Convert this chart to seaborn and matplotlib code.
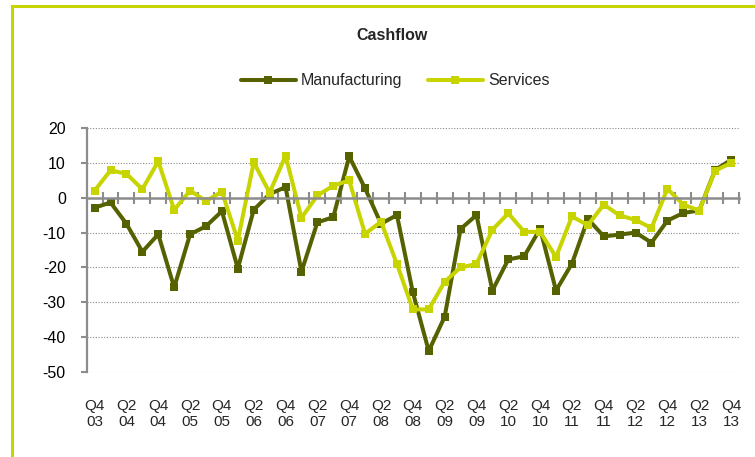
import matplotlib
matplotlib.use("Agg")
import matplotlib.pyplot as plt
from matplotlib.lines import Line2D
from matplotlib.patches import Rectangle
import numpy as np
import pandas as pd
import seaborn as sns

# Quarterly balance, Q4 2003 .. Q4 2013
manufacturing = [-2.9, -1.4, -7.5, -15.5, -10.5, -25.7, -10.5, -8.2, -3.9, -20.3,
                 -3.5, 1.0, 3.0, -21.2, -7.1, -5.6, 11.8, 2.6, -7.5, -5.0,
                 -27.1, -43.9, -34.1, -9.0, -5.0, -26.6, -17.7, -16.8, -8.9, -26.6,
                 -18.9, -6.1, -11.1, -10.6, -10.0, -12.9, -6.6, -4.4, -3.7, 7.9,
                 10.8]
services = [2.0, 7.8, 6.8, 2.4, 10.4, -3.5, 2.0, -1.0, 1.7, -12.3,
            10.1, 1.4, 12.0, -5.8, 0.6, 3.4, 4.9, -10.4, -6.9, -19.0,
            -32.0, -32.0, -24.1, -20.0, -19.0, -9.2, -4.5, -9.8, -9.8, -17.0,
            -5.4, -7.9, -2.0, -5.1, -6.4, -8.7, 2.5, -2.0, -3.7, 7.7,
            9.9]
tick_labels = ["Q4\n03", "Q2\n04", "Q4\n04", "Q2\n05", "Q4\n05", "Q2\n06", "Q4\n06",
               "Q2\n07", "Q4\n07", "Q2\n08", "Q4\n08", "Q2\n09", "Q4\n09", "Q2\n10",
               "Q4\n10", "Q2\n11", "Q4\n11", "Q2\n12", "Q4\n12", "Q2\n13", "Q4\n13"]
series_names = ["Manufacturing", "Services"]
colors = {"Manufacturing": "#566100", "Services": "#c8d400"}

n = len(manufacturing)
df = pd.DataFrame({
    "pos": list(range(n)) * 2,
    "value": manufacturing + services,
    "series": [series_names[0]] * n + [series_names[1]] * n,
})

sns.set_style("white")
plt.rcParams["font.family"] = ["Liberation Sans", "DejaVu Sans"]
plt.rcParams["axes.unicode_minus"] = False
plt.rcParams["xtick.bottom"] = True
plt.rcParams["ytick.left"] = True

fig = plt.figure(figsize=(7.55, 4.57), dpi=100)
ax = fig.add_axes([0.1148, 0.1853, 0.8640, 0.5353])

sns.lineplot(data=df, x="pos", y="value", hue="series", style="series",
             markers=["s", "s"], dashes=False, palette=colors,
             linewidth=2.9, markersize=6, markeredgewidth=0,
             legend=False, ax=ax)

axis_gray = "#8c8c8c"
ax.set_xlim(-0.5, n - 0.5)
ax.set_ylim(-50, 20)
ax.set_xlabel("")
ax.set_ylabel("")

# y axis
ax.set_yticks(np.arange(-50, 21, 10))
ax.tick_params(axis="y", left=True, direction="out", length=4, width=1.5,
               color=axis_gray, pad=11, labelsize=11.5, labelcolor="#000000")
ax.yaxis.grid(True, linestyle=(0, (1, 1.5)), color="#8a8a8a", linewidth=0.8)
ax.xaxis.grid(False)
ax.set_axisbelow(True)

for side in ("top", "right"):
    ax.spines[side].set_visible(False)
ax.spines["left"].set_color(axis_gray)
ax.spines["left"].set_linewidth(1.6)

# category axis crossing at zero, ticks between categories
ax.spines["bottom"].set_position(("data", 0))
ax.spines["bottom"].set_color(axis_gray)
ax.spines["bottom"].set_linewidth(1.8)
ax.set_xticks(np.arange(-0.5, n, 1.0))
ax.tick_params(axis="x", which="major", bottom=True, top=False,
               labelbottom=False, direction="inout", length=8, width=1.5,
               color=axis_gray)

# category labels at the foot of the plot area
sec = ax.secondary_xaxis("bottom")
sec.set_xticks(np.arange(0, n, 2), labels=tick_labels)
sec.tick_params(length=0, pad=19, labelsize=11)
sec.spines["bottom"].set_visible(False)

# title and legend
fig.text(392 / 755, 1 - 36 / 457, "Cashflow", ha="center", va="center",
         fontsize=11.5, fontweight="bold")
handles = [Line2D([], [], color=colors[s], linewidth=2.9, marker="s",
                  markersize=6, markeredgewidth=0) for s in series_names]
fig.legend(handles, series_names, loc="center",
           bbox_to_anchor=(395.5 / 755, 1 - 80.7 / 457), ncol=2, frameon=False,
           handlelength=3.4, handletextpad=0.35, columnspacing=1.6,
           fontsize=11.5)

# outer chart frame
fig.patches.append(Rectangle((11.5 / 755, -0.2), 2.0, 1.2 - 5.5 / 457,
                             transform=fig.transFigure, fill=False,
                             edgecolor="#c8d400", linewidth=2.2))

fig.savefig("out.png", dpi=100)
